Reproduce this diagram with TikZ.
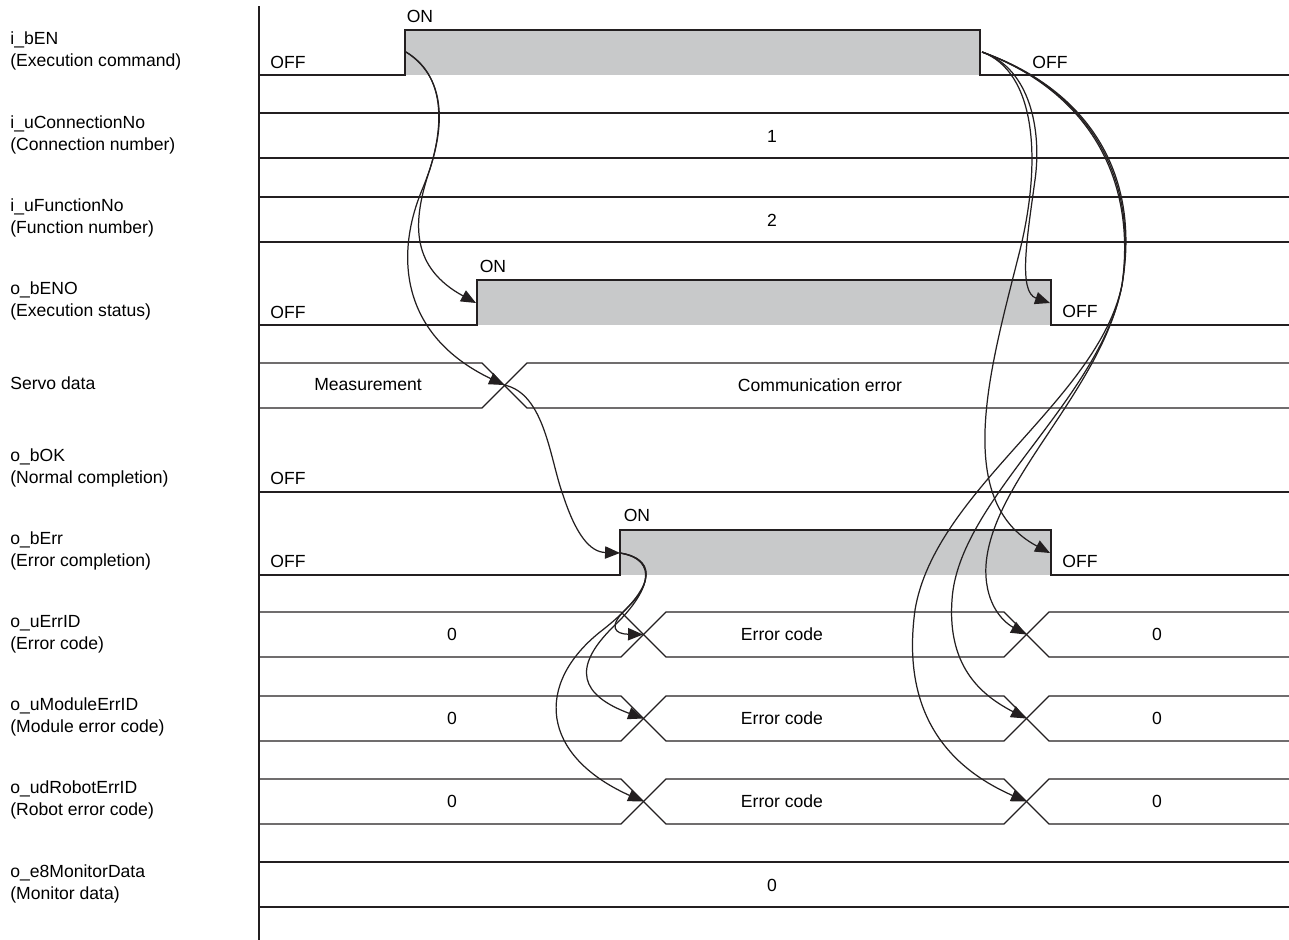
\documentclass[tikz,border=0pt]{standalone}
\usepackage{fontspec}
\setmainfont{Liberation Sans}
\usetikzlibrary{arrows.meta, positioning}
\definecolor{tline}{HTML}{231F20}
\definecolor{tgray}{HTML}{C8C9CA}
\tikzset{
  % traccia di un segnale
  wave/.style={draw=tline, line width=0.75pt},
  hifill/.style={fill=tgray},
  % nome del segnale a sinistra
  lbl/.style={font=\fontsize{10}{12.5}\selectfont, align=left, anchor=west, inner sep=0pt},
  % valori e stati
  val/.style={font=\fontsize{10}{12}\selectfont, inner sep=0pt},
  % freccia causa-effetto
  cause/.style={draw=tline, line width=0.7pt, -{Triangle[length=8.5pt,width=7pt]}},
}
\begin{document}
\begin{tikzpicture}[x=0.02cm, y=-0.02cm]
  \useasboundingbox (0,0) rectangle (1289,940);
  % nomi dei segnali
  \foreach \nm/\y/\t in {ben/51/{i\_bEN\\(Execution command)},
      conn/135/{i\_uConnectionNo\\(Connection number)},
      func/218/{i\_uFunctionNo\\(Function number)},
      beno/301/{o\_bENO\\(Execution status)},
      srv/383/{Servo data},
      bok/468/{o\_bOK\\(Normal completion)},
      berr/551/{o\_bErr\\(Error completion)},
      errid/634/{o\_uErrID\\(Error code)},
      moderr/717/{o\_uModuleErrID\\(Module error code)},
      roberr/800/{o\_udRobotErrID\\(Robot error code)},
      mon/884/{o\_e8MonitorData\\(Monitor data)}}
    \node[lbl] (l\nm) at (10,\y) {\t};
  \draw[wave] (259,6) -- (259,940);
  % bit
  \fill[hifill] (405,30) rectangle (980,75);
  \fill[hifill] (477,280) rectangle (1051,325);
  \fill[hifill] (620,530) rectangle (1051,575);
  \draw[wave] (259,75) -- (405,75) -- (405,30) -- (980,30) -- (980,75) -- (1289,75);
  \draw[wave] (259,325) -- (477,325) -- (477,280) -- (1051,280) -- (1051,325) -- (1289,325);
  \draw[wave] (259,492) -- (1289,492);
  \draw[wave] (259,575) -- (620,575) -- (620,530) -- (1051,530) -- (1051,575) -- (1289,575);
  \node[val, anchor=west] (benoff) at (270,62) {OFF};
  \node[val] (benon) at (420,16) {ON};
  \node[val] (benoff2) at (1050,62) {OFF};
  \node[val, anchor=west] (benooff) at (270,312) {OFF};
  \node[val] (benoon) at (493,266) {ON};
  \node[val] (benooff2) at (1080,311) {OFF};
  \node[val, anchor=west] (bokoff) at (270,478) {OFF};
  \node[val, anchor=west] (berroff) at (270,561) {OFF};
  \node[val] (berron) at (637,515) {ON};
  \node[val] (berroff2) at (1080,561) {OFF};
  % dati
  \draw[wave] (259,113) -- (1289,113) (259,158) -- (1289,158);
  \node[val] (connv) at (772,136) {1};
  \draw[wave] (259,197) -- (1289,197) (259,242) -- (1289,242);
  \node[val] (funcv) at (772,220) {2};
  \draw[wave] (259,363) -- (482,363) -- (527,408) -- (1289,408);
  \draw[wave] (259,408) -- (482,408) -- (527,363) -- (1289,363);
  \node[val] (srvv1) at (368,385) {Measurement};
  \node[val] (srvv2) at (820,385) {Communication error};
  \foreach \nm/\yt in {errid/612, moderr/696, roberr/779} {
    \pgfmathsetmacro{\yb}{\yt+45}
    \pgfmathsetmacro{\ym}{\yt+22.5}
    \draw[wave] (259,\yt) -- (621,\yt) -- (666,\yb) -- (1004,\yb) -- (1049,\yt) -- (1289,\yt);
    \draw[wave] (259,\yb) -- (621,\yb) -- (666,\yt) -- (1004,\yt) -- (1049,\yb) -- (1289,\yb);
    \node[val] (\nm-v1) at (452,\ym) {0};
    \node[val] (\nm-v2) at (782,\ym) {Error code};
    \node[val] (\nm-v3) at (1157,\ym) {0};
    \coordinate (\nm-a) at (643,\ym);
    \coordinate (\nm-b) at (1026,\ym);
  }
  \draw[wave] (259,862) -- (1289,862) (259,907) -- (1289,907);
  \node[val] (monv) at (772,885) {0};
  % fronti
  \coordinate (benup) at (406,52);
  \coordinate (bendn) at (982,52);
  \coordinate (benoup) at (476,303);
  \coordinate (benodn) at (1050,303);
  \coordinate (srvx) at (504,385);
  \coordinate (errup) at (620,553);
  \coordinate (errdn) at (1050,553);
  % frecce
  \draw[cause] (benup) .. controls (445,75) and (445,125) .. (428,175)
    .. controls (412,225) and (412,268) .. (benoup);
  \draw[cause] (benup) .. controls (450,80) and (445,135) .. (422,190)
    .. controls (395,255) and (400,335) .. (srvx);
  \draw[cause] (srvx) .. controls (545,393) and (550,460) .. (563,495)
    .. controls (576,535) and (590,552) .. (errup);
  \draw[cause] (errup) .. controls (655,558) and (652,585) .. (627,608)
    .. controls (608,626) and (614,634) .. (errid-a);
  \draw[cause] (errup) .. controls (660,560) and (650,592) .. (612,628)
    .. controls (572,668) and (580,695) .. (moderr-a);
  \draw[cause] (errup) .. controls (662,560) and (652,592) .. (600,632)
    .. controls (535,684) and (540,755) .. (roberr-a);
  \draw[cause] (bendn) .. controls (1030,68) and (1042,130) .. (1035,180)
    .. controls (1027,238) and (1018,292) .. (benodn);
  \draw[cause] (bendn) .. controls (1036,72) and (1042,160) .. (1020,250)
    .. controls (992,362) and (950,500) .. (errdn);
  \draw[cause] (bendn) .. controls (1080,88) and (1138,170) .. (1122,285)
    .. controls (1102,390) and (992,480) .. (986,565)
    .. controls (984,600) and (1000,620) .. (errid-b);
  \draw[cause] (bendn) .. controls (1082,88) and (1140,170) .. (1122,285)
    .. controls (1100,400) and (958,500) .. (952,600)
    .. controls (947,670) and (985,697) .. (moderr-b);
  \draw[cause] (bendn) .. controls (1084,88) and (1142,170) .. (1122,285)
    .. controls (1098,400) and (935,490) .. (915,610)
    .. controls (900,720) and (955,770) .. (roberr-b);
\end{tikzpicture}
\end{document}
